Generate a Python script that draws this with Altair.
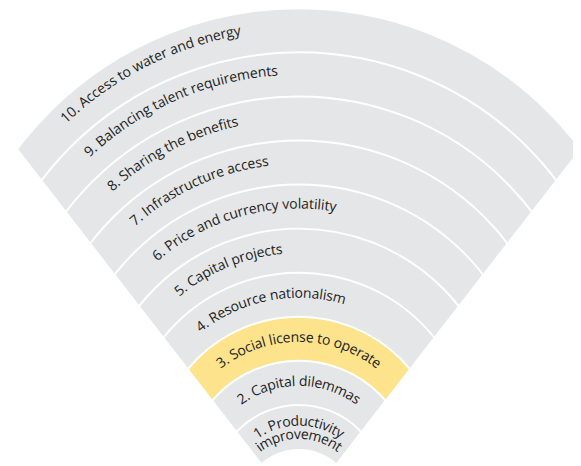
import math
import altair as alt
import pandas as pd

# ---------------- data ----------------
RANKS = [1, 2, 3, 4, 5, 6, 7, 8, 9, 10]
LABELS = [
    "1. Productivity improvement",
    "2. Capital dilemmas",
    "3. Social license to operate",
    "4. Resource nationalism",
    "5. Capital projects",
    "6. Price and currency volatility",
    "7. Infrastructure access",
    "8. Sharing the benefits",
    "9. Balancing talent requirements",
    "10. Access to water and energy",
]
HIGHLIGHTED = [3]
# the innermost label is set on two lines
LINE_SPLIT = {1: ["1. Productivity", "improvement"]}

# ---------------- style / layout ----------------
GRAY = "#e5e6e7"
YELLOW = "#fde48c"
TEXT = "#222222"
FONT = "Open Sans"
FS = 14.2
W, H = 573, 458
AX, AY = 295.0, 507.0          # apex of the fan
ALPHA = math.radians(37.8)     # half opening angle
E0, ES = 62.0, 40.35           # ring boundaries along the fan edge
C0, CS = 63.0, 44.7            # ring boundaries along the axis

# Open Sans advance widths (units per em 2048)
ADV = {
    " ": 532, ".": 545, "0": 1171, "1": 1171, "2": 1171, "3": 1171, "4": 1171,
    "5": 1171, "6": 1171, "7": 1171, "8": 1171, "9": 1171,
    "a": 1139, "b": 1255, "c": 975, "d": 1255, "e": 1149, "f": 694, "g": 1122,
    "h": 1257, "i": 518, "j": 518, "k": 1075, "l": 518, "m": 1905, "n": 1257,
    "o": 1237, "p": 1255, "q": 1255, "r": 836, "s": 977, "t": 723, "u": 1257,
    "v": 1026, "w": 1593, "x": 1073, "y": 1028, "z": 977,
    "A": 1296, "B": 1327, "C": 1292, "I": 559, "P": 1268, "R": 1300, "S": 1120,
}


def adv(ch):
    return ADV.get(ch, 1100) * FS / 2048.0


def circle(f):
    """circle through the fan edges at ring position f (0 = inner edge)."""
    e = E0 + ES * f
    c = C0 + CS * f
    d = (c * c - e * e) / (2.0 * (c - e * math.cos(ALPHA)))
    return d, c - d


# ---------------- bands ----------------
band_rows = []
for k in sorted(RANKS, reverse=True):
    d, rho = circle(k)
    band_rows.append({"rank": k, "cx": AX, "cy": AY - d, "rho": rho,
                      "kind": "hl" if k in HIGHLIGHTED else "base"})
bands_df = pd.DataFrame(band_rows)

d0, rho0 = circle(0)
hole_df = pd.DataFrame([{"cx": AX, "cy": AY - d0, "rho": rho0}])

# ---------------- curved labels ----------------
text_rows = []


def place(line, f, start_beta=None):
    d, rho = circle(f)
    cy = AY - d
    total = sum(adv(ch) for ch in line)
    if start_beta is None:
        phi0 = -total / (2.0 * rho)
    else:
        b = start_beta
        t = d * math.cos(b) + math.sqrt(rho * rho - (d * math.sin(b)) ** 2)
        px, py = t * math.sin(b), t * math.cos(b)
        phi0 = math.atan2(px, py - d)
    s = 0.0
    for ch in line:
        w = adv(ch)
        if ch != " ":
            phi = phi0 + (s + w / 2.0) / rho
            text_rows.append({
                "x": AX + rho * math.sin(phi),
                "y": cy - rho * math.cos(phi),
                "ang": math.degrees(phi) % 360.0,
                "ch": ch,
            })
        s += w


for k, lab in zip(RANKS, LABELS):
    if k in LINE_SPLIT:
        l1, l2 = LINE_SPLIT[k]
        place(l1, k - 0.38)
        place(l2, k - 0.68)
    elif k <= 3:
        place(lab, k - 0.48)
    else:
        place(lab, k - 0.49 + 0.012 * (k - 3),
              start_beta=-math.radians(27.6 + 0.35 * k))

text_df = pd.DataFrame(text_rows)

# ---------------- chart ----------------
pos = dict(x=alt.X("cx:Q", scale=None, axis=None),
           y=alt.Y("cy:Q", scale=None, axis=None),
           radius=alt.Radius("rho:Q", scale=None, stack=None))

bands = alt.Chart(bands_df).mark_arc(
    theta=1.5 * math.pi, theta2=2.5 * math.pi, stroke="white", strokeWidth=2
).encode(
    color=alt.Color("kind:N", scale=alt.Scale(domain=["base", "hl"], range=[GRAY, YELLOW]), legend=None),
    order=alt.Order("rank:Q", sort="descending"),
    **pos,
)

hole = alt.Chart(hole_df).mark_arc(
    theta=1.5 * math.pi, theta2=2.5 * math.pi, fill="white"
).encode(**pos)

mask = alt.Chart(pd.DataFrame({"m": [0]})).mark_arc(
    theta=ALPHA, theta2=2 * math.pi - ALPHA, radius=1200, fill="white"
).encode(x=alt.value(AX), y=alt.value(AY))

labels = alt.Chart(text_df).mark_text(
    font=FONT, fontSize=FS, color=TEXT, align="center", baseline="middle"
).encode(
    x=alt.X("x:Q", scale=None, axis=None),
    y=alt.Y("y:Q", scale=None, axis=None),
    angle=alt.Angle("ang:Q", scale=None),
    text="ch:N",
)

chart = alt.layer(bands, hole, mask, labels).properties(
    width=W, height=H, padding=0, autosize=alt.AutoSizeParams(type="none"),
    background="white",
).configure_view(stroke=None)

chart.save("out.html", embed_options={"renderer": "svg", "actions": False})
